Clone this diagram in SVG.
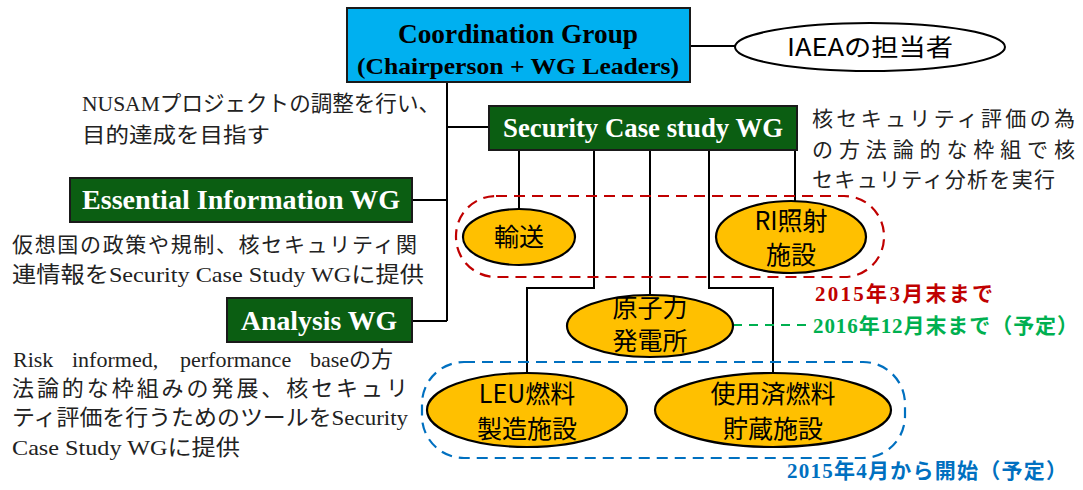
<svg xmlns="http://www.w3.org/2000/svg" width="1083" height="490" viewBox="0 0 1083 490">
<style>
.gbox{fill:#0b5e12;stroke:#1a1a1a;stroke-width:2}
.gtxt{font-family:"Liberation Serif",serif;font-weight:bold;fill:#ffffff;text-anchor:middle}
.ell{fill:#ffc000;stroke:#000;stroke-width:2.2}
.etxt{font-family:"Noto Sans CJK JP",sans-serif;font-size:25px;fill:#000;text-anchor:middle}
.jt{font-family:"Liberation Serif","Noto Sans CJK JP",serif;font-size:22px;fill:#222}
.jp{font-family:"Noto Sans CJK JP",sans-serif;font-size:21px;fill:#222}
.ln{stroke:#000;stroke-width:2;fill:none}
.date{font-family:"Liberation Serif","Noto Sans CJK JP",serif;font-weight:bold;font-size:21px}
</style>
<rect width="1083" height="490" fill="#ffffff"/>
<g id="connectors">
<path class="ln" d="M690,46 H735"/>
<path class="ln" d="M447,82 V321"/>
<path class="ln" d="M447,127 H489"/>
<path class="ln" d="M412,200 H447"/>
<path class="ln" d="M412,321 H447"/>
<path class="ln" d="M519,150 V209"/>
<path class="ln" d="M594,150 V288 H527 V373"/>
<path class="ln" d="M650,150 V295"/>
<path class="ln" d="M709,150 V288 H773 V373"/>
<path class="ln" d="M795,150 V202"/>
<path d="M733,325 H810" stroke="#00b050" stroke-width="2" stroke-dasharray="9,7" fill="none"/>
</g>
<g id="group-red">
<rect x="456" y="196" width="428" height="81" rx="40" ry="40" fill="none" stroke="#c00000" stroke-width="2.2" stroke-dasharray="11,7"/>
</g>
<g id="group-blue">
<rect x="422" y="362" width="483" height="96" rx="42" ry="42" fill="none" stroke="#0070c0" stroke-width="2.2" stroke-dasharray="11,7"/>
</g>
<g id="coordination">
<rect x="347" y="8" width="343" height="74" fill="#00b0f0" stroke="#1a1a1a" stroke-width="2"/>
<text x="518" y="43" font-family="Liberation Serif,serif" font-weight="bold" font-size="28" text-anchor="middle" fill="#000" textLength="240" lengthAdjust="spacingAndGlyphs">Coordination Group</text>
<text x="518" y="74" font-family="Liberation Serif,serif" font-weight="bold" font-size="24" text-anchor="middle" fill="#000" textLength="322" lengthAdjust="spacingAndGlyphs">(Chairperson + WG Leaders)</text>
</g>
<g id="iaea">
<ellipse cx="870" cy="47" rx="135" ry="24" fill="#fff" stroke="#000" stroke-width="2"/>
<text x="870" y="56" font-family="Noto Sans CJK JP,sans-serif" font-size="24" text-anchor="middle" fill="#000" textLength="166" lengthAdjust="spacingAndGlyphs">IAEAの担当者</text>
</g>
<g id="coord-desc">
<text class="jt" x="82" y="111" textLength="358" lengthAdjust="spacingAndGlyphs">NUSAMプロジェクトの調整を行い、</text>
<text class="jp" x="82" y="142" textLength="188" lengthAdjust="spacingAndGlyphs">目的達成を目指す</text>
</g>
<g id="security">
<rect class="gbox" x="489" y="106" width="308" height="44"/>
<text class="gtxt" x="643" y="137" font-size="27" textLength="280" lengthAdjust="spacingAndGlyphs">Security Case study WG</text>
</g>
<g id="security-desc">
<text class="jp" x="812" y="126" font-size="22" textLength="263" lengthAdjust="spacing">核セキュリティ評価の為</text>
<text class="jp" x="812" y="157" font-size="22" textLength="263" lengthAdjust="spacing">の方法論的な枠組で核</text>
<text class="jp" x="812" y="187" font-size="22" textLength="243" lengthAdjust="spacing">セキュリティ分析を実行</text>
</g>
<g id="essential">
<rect class="gbox" x="70" y="178" width="342" height="44"/>
<text class="gtxt" x="241" y="209" font-size="27" textLength="318" lengthAdjust="spacingAndGlyphs">Essential Information WG</text>
</g>
<g id="essential-desc">
<text class="jp" x="12" y="252" textLength="405" lengthAdjust="spacing">仮想国の政策や規制、核セキュリティ関</text>
<text class="jt" x="12" y="282" textLength="412" lengthAdjust="spacingAndGlyphs">連情報をSecurity Case Study WGに提供</text>
</g>
<g id="analysis">
<rect class="gbox" x="227" y="298" width="185" height="44"/>
<text class="gtxt" x="319" y="330" font-size="27" textLength="156" lengthAdjust="spacingAndGlyphs">Analysis WG</text>
</g>
<g id="analysis-desc">
<text class="jt" y="367" font-size="24"><tspan x="13">Risk</tspan><tspan x="72">informed,</tspan><tspan x="180">performance</tspan><tspan x="310">base</tspan><tspan font-size="22">の方</tspan></text>
<text class="jt" x="12" y="396" textLength="396" lengthAdjust="spacing">法論的な枠組みの発展、核セキュリ</text>
<text class="jt" x="12" y="425" textLength="396" lengthAdjust="spacingAndGlyphs">ティ評価を行うためのツールをSecurity</text>
<text class="jt" x="12" y="455" textLength="228" lengthAdjust="spacingAndGlyphs">Case Study WGに提供</text>
</g>
<g id="transport">
<ellipse class="ell" cx="519" cy="237" rx="56" ry="28"/>
<text class="etxt" x="519" y="246">輸送</text>
</g>
<g id="ri">
<ellipse class="ell" cx="791" cy="237" rx="75" ry="36"/>
<text class="etxt" x="791" y="230">RI照射</text>
<text class="etxt" x="791" y="264">施設</text>
</g>
<g id="npp">
<ellipse class="ell" cx="650" cy="326" rx="83" ry="31"/>
<text class="etxt" x="650" y="317" font-size="24">原子力</text>
<text class="etxt" x="650" y="350" font-size="24">発電所</text>
</g>
<g id="leu">
<ellipse class="ell" cx="527" cy="410" rx="100" ry="37"/>
<text class="etxt" x="527" y="403">LEU燃料</text>
<text class="etxt" x="527" y="438">製造施設</text>
</g>
<g id="spent">
<ellipse class="ell" cx="773" cy="410" rx="118" ry="37"/>
<text class="etxt" x="773" y="403">使用済燃料</text>
<text class="etxt" x="773" y="438">貯蔵施設</text>
</g>
<g id="labels">
<text class="date" x="815" y="301" fill="#c00000" textLength="178" lengthAdjust="spacing">2015年3月末まで</text>
<text class="date" x="813" y="333" fill="#00b050" textLength="265" lengthAdjust="spacing">2016年12月末まで（予定）</text>
<text class="date" x="787" y="478" fill="#0070c0" textLength="280" lengthAdjust="spacing">2015年4月から開始（予定）</text>
</g>
</svg>
